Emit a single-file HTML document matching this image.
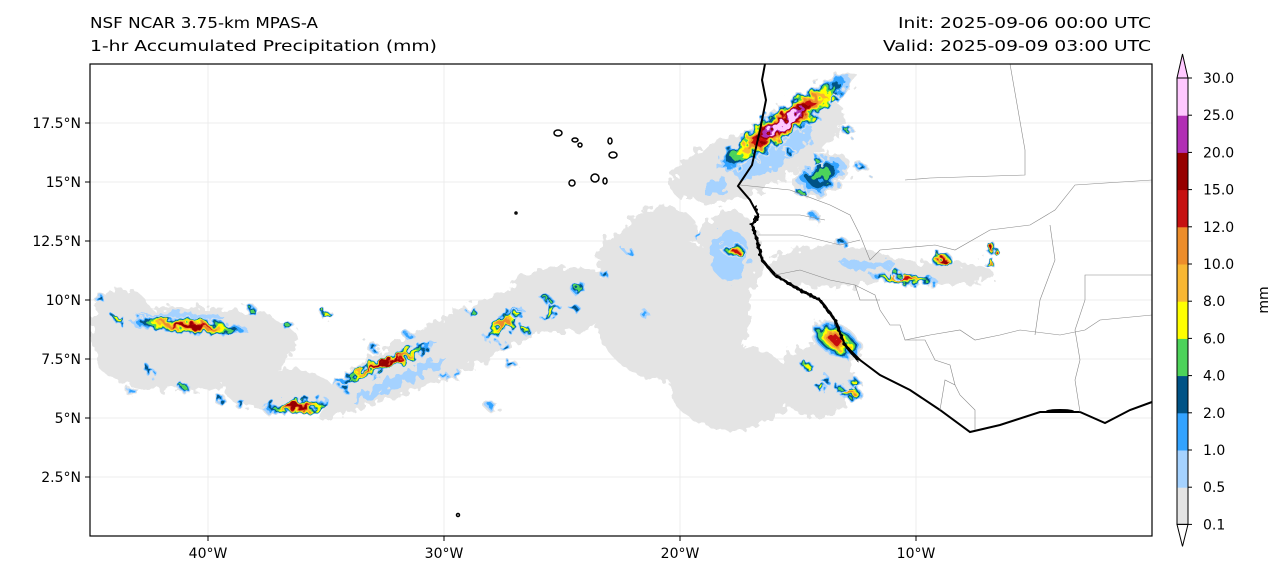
<!DOCTYPE html>
<html><head><meta charset="utf-8"><style>
body{margin:0;background:#fff;width:1286px;height:580px;overflow:hidden;font-family:"Liberation Sans","DejaVu Sans",sans-serif}
svg text{font-family:"DejaVu Sans","Liberation Sans",sans-serif;fill:#000}
</style></head><body>
<svg id="chart" width="1286" height="580" xmlns="http://www.w3.org/2000/svg">
<text x="90" y="28" font-size="15" textLength="228" lengthAdjust="spacingAndGlyphs">NSF NCAR 3.75-km MPAS-A</text>
<text x="90" y="51" font-size="15" textLength="347" lengthAdjust="spacingAndGlyphs">1-hr Accumulated Precipitation (mm)</text>
<text x="898" y="28" font-size="15" textLength="253" lengthAdjust="spacingAndGlyphs">Init: 2025-09-06 00:00 UTC</text>
<text x="883" y="51" font-size="15" textLength="268" lengthAdjust="spacingAndGlyphs">Valid: 2025-09-09 03:00 UTC</text>
<defs><clipPath id="clip"><rect x="90" y="64" width="1062" height="472"/></clipPath>
<filter id="rough"><feTurbulence type="fractalNoise" baseFrequency="0.12" numOctaves="2" seed="3"/><feDisplacementMap in="SourceGraphic" scale="16"/></filter>
<filter id="jag"><feTurbulence type="fractalNoise" baseFrequency="0.3" numOctaves="1" seed="5"/><feDisplacementMap in="SourceGraphic" scale="8"/></filter></defs>
<g id="grid"></g>
<g id="precip" clip-path="url(#clip)" filter="url(#rough)"></g>
<g id="base" clip-path="url(#clip)"></g>
<rect x="90" y="64" width="1062" height="472" fill="none" stroke="#000" stroke-width="1.2"/>
<g id="axes"></g>
<g id="cbar"></g>
<text x="0" y="0" font-size="14" transform="translate(1268,300) rotate(-90)" text-anchor="middle">mm</text>
</svg>
<script>
const lonTicks=[-40,-30,-20,-10];
const lonLabels=["40°W","30°W","20°W","10°W"];
const latTicks=[2.5,5,7.5,10,12.5,15,17.5];
const latLabels=["2.5°N","5°N","7.5°N","10°N","12.5°N","15°N","17.5°N"];
const levels=["0.1","0.5","1.0","2.0","4.0","6.0","8.0","10.0","12.0","15.0","20.0","25.0","30.0"];
const levelColors=["#e4e4e4","#a5d2ff","#33a3ff","#005386","#4dd35a","#ffff00","#f8b733","#ed8d2a","#c61111","#960000","#b12fb4","#ffc8ff"];
// precip blobs: lon, lat, radii (deg), rotation (deg), max level index
const blobLon=[-20.3,-17.8,-21.7,-14.2,-40.5,-43.6,-37,-29.3,-25.1,-13.6,-9,-18.6,-20.8,-17.9,-16.2,-41.2,-31.9,-12,-15.6,-40.8,-32.5,-36.2,-27.5,-13.4,-10.5,-12.8,-8.9,-17.7,-25.5,-24.3,-14.0,-18.5];
const blobLat=[9.5,6.3,11.7,6.6,7.9,8.7,6.2,8.3,10.0,11.4,11.1,15.6,13.0,11.9,16.3,9.2,6.6,11.5,17.5,8.9,7.3,5.5,9.0,8.3,10.9,6.1,11.7,12.1,9.5,10.5,15.3,14.8];
const blobRx=[3.3,2.6,1.8,1.6,4.3,1.4,2.3,6.6,2.3,2.7,2.3,2.0,1.5,1.4,3.6,3.4,3.8,2.0,3.7,2.8,2.6,1.6,1.2,0.7,1.6,0.5,0.5,0.3,0.6,0.4,1.3,1.0];
const blobRy=[3.0,1.8,1.4,1.6,1.7,1.8,0.9,1.2,1.4,0.9,0.5,1.0,1.0,1.9,1.3,0.5,0.4,0.35,0.7,0.35,0.3,0.3,0.4,1.2,0.25,0.4,0.3,0.6,0.3,0.3,0.8,0.6];
const blobRot=[0,0,0,0,-5,0,0,-25,0,0,0,-30,0,0,-30,0,-25,0,-35,5,-22,-5,-40,-60,5,0,0,-80,-50,-50,-30,-30];
const blobLevel=[0,0,0,0,0,0,0,0,0,0,0,0,0,1,1,1,1,1,11,9,9,9,7,8,8,7,9,8,5,4,4,1];
// scattered small convective cells
const cellLon=[-43.8,-42.5,-41,-39.5,-38.2,-35,-34.2,-33,-31.5,-30,-28.8,-27.5,-26.5,-25.6,-24.5,-23.2,-22.2,-21.5,-28,-29.5,-27.2,-26.9,-14.6,-13.2,-12.6,-14.2,-15.4,-12.3,-14.9,-14.3,-13.2,-6.8,-6.9,-10.8,-14.0,-13.9,-19.2,-44.6,-43.2,-38.6,-36.6,-13.5,-12.9];
const cellLat=[9.2,7.0,6.3,5.8,9.6,9.4,6.3,8.0,8.5,6.8,9.5,8.1,8.7,10.0,9.7,11.1,12.1,9.4,5.5,6.9,7.3,9.4,7.2,6.2,6.5,15.9,16.3,15.6,14.6,13.5,12.5,12.2,11.6,11.1,6.3,6.7,12.7,10.1,6.1,5.6,8.9,18.5,17.2];
const cellLevel=[5,3,4,3,4,5,3,3,2,2,4,3,5,4,3,3,2,2,2,2,3,5,5,4,5,4,3,3,4,2,3,9,7,4,5,3,2,3,2,3,4,5,4];

const X=lon=>90+(lon+45)*23.6, Y=lat=>64+(20-lat)*23.6, S=23.6;
const NS="http://www.w3.org/2000/svg";
function mk(tag,attrs,parent){const e=document.createElementNS(NS,tag);for(const k in attrs)e.setAttribute(k,attrs[k]);parent.appendChild(e);return e;}
const grid=document.getElementById('grid'),axes=document.getElementById('axes');
lonTicks.forEach((v,i)=>{
 const g=mk('line',{x1:X(v),x2:X(v),y1:64,y2:536,stroke:'#ececec','stroke-width':1},grid);
 
 
 mk('line',{x1:X(v),x2:X(v),y1:536,y2:541,stroke:'#000'},axes);
 const t=mk('text',{x:X(v),y:558,'font-size':14,'text-anchor':'middle'},axes);t.textContent=lonLabels[i];
 
 
});
latTicks.forEach((v,i)=>{
 const g=mk('line',{x1:90,x2:1152,y1:Y(v),y2:Y(v),stroke:'#ececec','stroke-width':1},grid);
 
 
 mk('line',{x1:85,x2:90,y1:Y(v),y2:Y(v),stroke:'#000'},axes);
 const t=mk('text',{x:81,y:Y(v)+5,'font-size':14,'text-anchor':'end'},axes);t.textContent=latLabels[i];
 
 
});
const P=document.getElementById('precip');
function blob(lon,lat,rx,ry,rot,lev){
 for(let i=0;i<=lev;i++){
  const s=1-i/(lev+1)*0.85;
  const e=mk('ellipse',{cx:X(lon),cy:Y(lat),rx:rx*S*s,ry:Math.max(ry*S*s,1.2),fill:levelColors[i],transform:`rotate(${rot} ${X(lon)} ${Y(lat)})`},P);
  
  
 }
}
blobLon.forEach((v,i)=>blob(v,blobLat[i],blobRx[i],blobRy[i],blobRot[i],blobLevel[i]));
cellLon.forEach((v,i)=>blob(v,cellLat[i],0.28,0.22,0,cellLevel[i]));
// basemap (pixel space)
const B=document.getElementById('base');
const coast="M765,64 L762,80 L766,100 L760,130 L752,165 L738,186 L750,200 L758,215 L752,225 L757,240 L762,260 L775,275 L800,290 L820,300 L835,320 L845,345 L860,360 L880,375 L910,390 L940,410 L970,432 L1000,425 L1040,412 L1080,412 L1105,423 L1130,410 L1152,402";
const c=mk('path',{d:coast,fill:'none',stroke:'#000','stroke-width':2},B);


const jag=mk('path',{d:"M755,205 L758,215 L752,225 L757,240 L762,260 L775,275 L800,290 L820,300 L835,320 L845,345 L858,360",fill:'none',stroke:'#000','stroke-width':3,filter:'url(#jag)'},B);


const borders=["M1010,64 L1025,150 L1025,175 L930,178 L905,180","M740,185 L790,190 L830,205 L850,215 L860,235 L870,260 L880,250 L935,245 L955,250 L990,230 L1030,225 L1055,210 L1075,185 L1152,180","M760,215 L800,215 L825,220","M758,235 L800,235 L840,245 L860,240","M775,275 L800,270 L830,280 L855,285 L875,295 L880,310 L890,325 L900,325 L905,340 L925,340 L935,360 L950,365 L955,385","M855,285 L860,300 L880,300","M905,340 L930,335 L960,330 L975,340 L1000,335 L1020,330 L1060,335 L1085,330 L1100,320 L1152,315","M940,410 L945,380 L955,385 L960,395 L975,410 L975,430","M1080,412 L1075,380 L1080,360 L1075,330 L1085,300 L1085,275 L1152,275","M1050,225 L1055,260 L1040,300 L1035,335"];
borders.forEach(d=>{const b=mk('path',{d:d,fill:'none',stroke:'#888','stroke-width':0.6},B);
 
 });
const ests=[[1060,411,14,2]];
ests.forEach(a=>{const e=mk('ellipse',{cx:a[0],cy:a[1],rx:a[2],ry:a[3],fill:'#000'},B);
 
 });
const isl=[[558,133,4,3],[575,140,3,2],[580,145,2,2],[610,141,2,3],[613,155,4,3],[572,183,3,3],[595,178,4,4],[605,181,2,3],[516,213,1,1],[458,515,1.5,1.5]];
isl.forEach(a=>{const e=mk('ellipse',{cx:a[0],cy:a[1],rx:a[2],ry:a[3],fill:'none',stroke:'#000','stroke-width':1.5},B);
 
 });
// colorbar
const CB=document.getElementById('cbar');
const cx0=1177,cw=11,ytop=78,step=37.2;
levelColors.forEach((col,i)=>{
 const r=mk('rect',{x:cx0,y:ytop+(11-i)*step,width:cw,height:step+0.5,fill:col},CB);
 
 
});
mk('path',{d:`M${cx0},${ytop} L${cx0+cw/2},${ytop-24} L${cx0+cw},${ytop} Z`,fill:'#ffc8ff',stroke:'#000','stroke-width':1},CB);
const yb=ytop+12*step;
mk('path',{d:`M${cx0},${yb} L${cx0+cw/2},${yb+22} L${cx0+cw},${yb} Z`,fill:'#fff',stroke:'#000','stroke-width':1},CB);
mk('rect',{x:cx0,y:ytop,width:cw,height:12*step,fill:'none',stroke:'#000','stroke-width':1},CB);
levels.forEach((l,i)=>{
 const y=yb-i*step;
 mk('line',{x1:cx0+cw,x2:cx0+cw+4,y1:y,y2:y,stroke:'#000'},CB);
 const t=mk('text',{x:1203,y:y+5,'font-size':14},CB);t.textContent=l;
 
 
});
</script>
</body></html>
